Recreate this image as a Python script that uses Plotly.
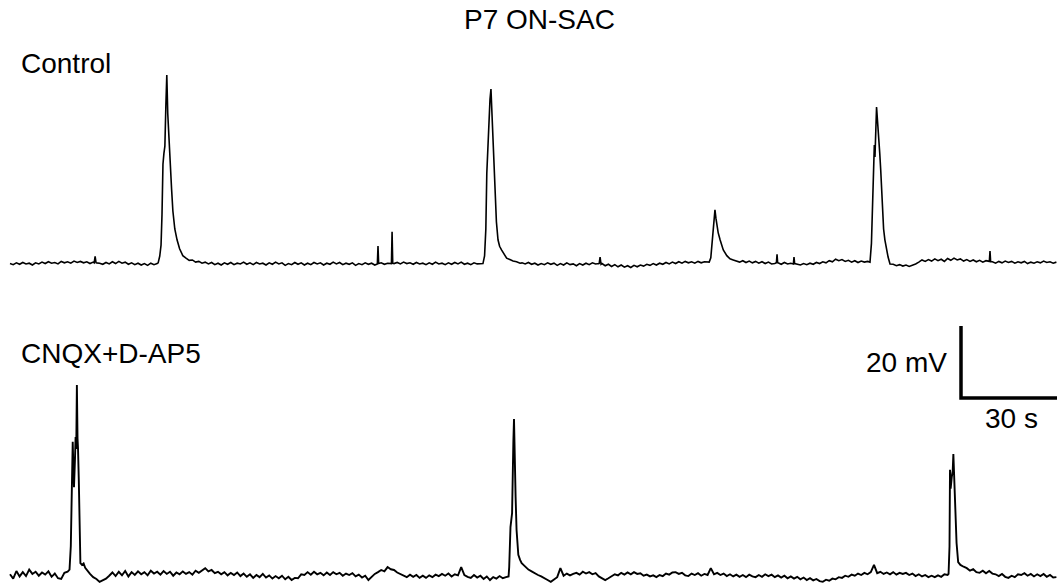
import plotly.graph_objects as go

# ---------------- data (time in s, membrane potential in mV relative to rest) ----------------
TITLE = "P7 ON-SAC"
LABEL_CONTROL = "Control"
LABEL_DRUG = "CNQX+D-AP5"
SCALE_MV = 20     # vertical scale bar (mV)
SCALE_S = 30      # horizontal scale bar (s)

# Baseline samples, one per second (t = 0 .. 327 s)
control_base_mv = [
    0.4, 0.1, 0.6, 0.2, 0.7, 0.3, 0.5, 0.0, 0.6, 0.3,
    0.8, 0.4, 0.9, 0.5, 0.7, 0.3, 1.0, 0.6, 0.9, 0.5,
    1.1, 0.7, 1.0, 0.6, 0.9, 0.4, 0.8, 0.6, 0.5, 0.2,
    0.7, 0.3, 0.9, 0.4, 1.0, 0.5, 0.8, 0.2, 0.6, 0.1,
    0.5, 0.0, 0.4, -0.1, 0.5, 0.1, 0.4, 0.0, 0.0, 0.0,
    0.0, 0.0, 0.0, 0.0, 0.0, 1.9, 1.3, 1.4, 0.8, 1.0,
    0.5, 0.8, 0.3, 0.7, 0.1, 0.5, 0.0, 0.6, 0.2, 0.7,
    0.1, 0.5, 0.3, 0.8, 0.2, 0.6, 0.1, 0.7, 0.3, 0.5,
    0.0, 0.6, 0.2, 0.8, 0.3, 0.6, -0.1, 0.4, 0.1, 0.7,
    0.2, 0.6, 0.0, 0.5, 0.1, 0.7, 0.3, 0.6, 0.0, 0.5,
    0.2, 0.8, 0.3, 0.7, 0.1, 0.5, 0.2, 0.6, -0.1, 0.4,
    0.1, 0.6, 0.2, 0.5, 0.0, 0.0, 0.6, 0.2, 0.5, 0.5,
    0.4, 0.7, 0.3, 0.8, 0.4, 0.6, 0.2, 0.7, 0.3, 0.5,
    0.1, 0.6, 0.2, 0.8, 0.3, 0.5, 0.1, 0.6, 0.2, 0.7,
    0.3, 0.8, 0.2, 0.5, 0.1, 0.6, 0.3, 0.4, 0.0, 0.0,
    0.0, 0.0, 0.0, 0.0, 0.0, 0.0, 0.0, 0.0, 0.0, 0.0,
    0.6, 0.3, 0.7, 0.2, 0.5, 0.0, 0.4, 0.1, 0.6, 0.2,
    0.5, -0.1, 0.4, 0.0, 0.6, 0.1, 0.3, -0.2, 0.4, 0.0,
    0.5, 0.1, 0.6, 0.3, 0.4, 0.4, -0.2, 0.2, -0.4, 0.1,
    -0.5, 0.0, -0.6, -0.2, -0.7, -0.1, -0.5, 0.0, -0.3, 0.2,
    -0.1, 0.4, 0.0, 0.5, 0.2, 0.7, 0.3, 0.8, 0.4, 0.9,
    0.5, 1.0, 0.6, 0.9, 0.5, 1.0, 0.6, 0.9, 0.7, 0.0,
    0.0, 0.0, 0.0, 0.0, 0.0, 0.0, 0.0, 0.0, 0.8, 1.2,
    0.7, 1.1, 0.6, 1.0, 0.5, 0.9, 0.4, 0.8, 0.3, 0.4,
    0.6, 0.2, 0.7, 0.3, 0.5, 0.0, 0.3, 0.0, 0.4, 0.1,
    0.5, 0.2, 0.7, 0.4, 0.9, 0.6, 1.2, 0.9, 1.6, 1.2,
    1.5, 1.0, 1.3, 0.8, 1.2, 0.7, 1.1, 0.8, 1.0, 0.0,
    0.0, 0.0, 0.0, 0.0, 0.0, 0.0, 0.2, -0.2, 0.1, -0.3,
    0.0, -0.4, -0.1, 0.3, 0.8, 1.4, 1.0, 1.5, 1.1, 1.7,
    1.2, 1.6, 1.0, 1.8, 1.3, 1.9, 1.4, 1.7, 1.1, 1.5,
    1.0, 1.4, 0.9, 1.3, 0.8, 1.2, 1.0, 0.9, 0.5, 1.0,
    0.6, 1.1, 0.7, 1.0, 0.5, 0.9, 0.6, 1.0, 0.4, 0.8,
    0.5, 0.9, 0.6, 1.1, 0.7, 0.9, 0.5, 0.8,
]

# Events (waves and small spikes) of the control trace, sampled finely
control_event_t = [
    [26.3, 26.6, 26.9],
    [46.3, 46.8, 47.2, 47.5, 47.8, 48.1, 48.4, 48.7, 49.0, 49.3, 49.5, 49.8,
     50.1, 50.5, 50.9, 51.5, 52.2, 53.0, 54.0, 54.6],
    [114.8, 115.0, 115.2],
    [119.2, 119.4, 119.6],
    [147.8, 148.3, 148.7, 149.0, 149.4, 149.7, 150.0, 150.3, 150.5, 150.8, 151.2,
     151.6, 152.0, 152.5, 153.0, 153.6, 154.4, 155.2, 156.2, 157.2, 158.3, 159.4],
    [184.1, 184.4, 184.7],
    [218.5, 219.0, 219.4, 219.8, 220.3, 220.6, 220.8, 221.3, 221.9, 222.9, 224.0,
     225.0, 226.0, 227.0],
    [239.5, 239.7, 239.9],
    [244.8, 245.0, 245.2],
    [268.75, 269.2, 269.5, 269.9, 270.1, 270.3, 270.6, 270.8, 271.1, 271.4, 271.8,
     272.1, 272.4, 272.7, 273.0, 273.4, 273.9, 274.4, 275.0],
    [306.05, 306.25, 306.45],
]
control_event_mv = [
    [0.6, 2.4, 0.5],
    [0.6, 2.5, 5.5, 14, 28, 31, 33, 44, 52.8, 42, 38, 32,
     27, 21, 15, 10, 7, 4.5, 2.6, 2.1],
    [0.3, 5.3, 0.4],
    [0.4, 9.2, 0.5],
    [0.4, 2.5, 10, 25.5, 35, 43, 46, 48.9, 44, 40, 30,
     20, 12, 7, 5.2, 4.2, 3.0, 1.9, 1.5, 1.1, 0.9, 0.5],
    [0.3, 2.2, 0.2],
    [0.8, 2.0, 6, 11, 15.3, 13, 11.7, 9, 7, 4.2, 2.6,
     1.7, 1.4, 1.0],
    [0.6, 3.0, 0.5],
    [0.3, 2.2, 0.4],
    [0.8, 6, 18, 28, 33.3, 30, 38, 43.9, 40, 37, 31,
     26.4, 20, 14.4, 10, 7, 4, 2.2, 0.3],
    [1.0, 3.9, 0.9],
]

cnqx_base_mv = [
    0.2, -1.0, 1.1, -0.4, 0.8, -0.3, 1.5, 0.3, 0.9, -0.2,
    0.7, 0.1, 1.0, -0.5, 0.4, -0.9, -1.1, 0.6, 0.9, 0.0,
    0.0, 0.0, 0.0, 0.0, 0.0, 0.3, -0.6, -1.1, -1.9, -1.4,
    -1.0, -0.2, 0.7, -0.3, 0.9, -0.1, 1.1, -0.4, 0.8, 0.0,
    1.0, 0.2, 0.8, -0.1, 1.2, 0.4, 0.9, 0.1, 1.1, 0.3,
    0.9, -0.2, 0.7, 0.2, 1.0, 0.3, 0.8, 0.1, 1.2, 0.6,
    1.3, 1.9, 1.0, 1.4, 0.5, 0.9, 0.2, 0.8, -0.1, 0.6,
    0.0, 0.7, -0.3, 0.4, -0.5, 0.2, -0.8, 0.0, -0.6, 0.3,
    -0.7, -0.1, -1.0, -0.3, -0.9, -0.2, -1.2, -0.5, -1.4, -0.8,
    -0.9, 0.2, 0.0, 0.8, 0.1, 0.9, 0.2, 0.6, -0.1, 0.7,
    0.0, 0.8, 0.2, 0.6, -0.2, 0.4, 0.0, 0.5, -0.4, 0.1,
    -0.7, -0.2, -1.4, -0.6, 0.3, 0.8, 1.4, 1.0, 2.2, 1.6,
    1.4, 0.7, 0.2, -0.3, -0.6, 0.1, -0.5, 0.0, -0.8, -0.2,
    -0.8, -0.1, -0.6, 0.1, -0.3, 0.3, -0.2, 0.4, -0.4, 0.2,
    -0.1, 2.2, 0.0, -0.5, -0.8, 0.0, -0.7, -0.2, -1.1, -0.4,
    -1.4, -0.6, -1.0, -0.3, -0.9, -0.6, 0.0, 0.0, 0.0, 0.0,
    0.0, 0.0, 1.5, 1.0, 0.4, 0.0, -0.4, -1.0, -1.4, -1.9,
    -1.2, -0.6, 1.9, -0.2, 0.4, -0.1, 0.3, 0.6, 0.1, 0.9,
    0.4, 0.8, 0.2, 0.5, -0.4, -0.8, -1.4, -0.9, -0.3, 0.2,
    -0.1, 0.6, 0.1, 0.7, 0.2, 0.8, 0.3, 0.5, -0.2, 0.1,
    -0.4, -0.1, -0.6, 0.0, -0.3, 0.4, 0.1, 0.7, 0.8, 0.3,
    0.6, -0.1, -0.3, 0.4, 0.0, 0.5, -0.2, 0.3, 0.0, 1.9,
    0.2, 0.6, 0.0, 0.4, -0.3, 0.2, -0.4, 0.1, -0.5, 0.0,
    -0.6, 0.1, -0.4, -0.6, 0.0, -0.5, 0.2, -0.3, 0.1, -0.6,
    -0.1, -0.7, -0.2, -0.9, -0.4, -1.0, -0.5, -1.2, -0.7, -1.4,
    -0.9, -1.5, -1.1, -1.7, -1.9, -1.3, -1.6, -1.0, -1.2, -0.6,
    -0.8, -0.2, -0.5, 0.1, -0.2, 0.4, 0.0, 0.6, 0.2, 0.8,
    2.8, 0.5, 0.9, 0.3, 0.7, 0.2, 0.8, 0.1, 0.6, 0.3,
    0.6, 0.0, 0.4, -0.3, 0.2, -0.4, 0.0, -0.6, -0.2, -0.6,
    -0.1, -0.5, 0.2, 0.0, 0.0, 0.0, 0.0, 2.8, 2.3, 1.9,
    1.2, 1.6, 0.8, 0.6, 1.2, 0.5, 1.1, 0.4, 0.2, -0.3,
    0.3, -0.5, -0.8, -0.2, -0.6, 0.2, 0.0, 0.5, -0.2, 0.3,
    -0.4, 0.2, -0.3, 0.3, -0.5, 0.0, -0.7, -0.6,
]

cnqx_event_t = [
    [18.6, 19.0, 19.3, 19.6, 19.8, 20.0, 20.3, 20.5, 20.7, 20.9, 21.1, 21.25,
     21.5, 21.8, 22.0, 22.5, 23.0, 23.5, 24.0],
    [155.8, 156.0, 156.4, 156.9, 157.1, 157.3, 157.5, 157.7, 158.0, 158.3, 158.85,
     159.4, 159.9, 160.7, 161.5],
    [293.3, 293.6, 293.75, 293.95, 294.3, 294.6, 294.8, 295.1, 295.5, 295.8, 296.3,
     296.6],
]
cnqx_event_mv = [
    [1.5, 8, 25, 37, 30, 24.4, 32, 38.3, 35, 52.8, 38, 35.3,
     26.4, 10.6, 3.3, 2.8, 3.2, 2.0, 1.4],
    [-0.4, 2.2, 13.3, 17.2, 34.7, 37, 43.3, 29.2, 21.7, 12.5, 5.6,
     4.2, 3.3, 2.6, 1.9],
    [0.3, 8, 29.2, 24, 27.2, 29, 33.6, 27.2, 16, 8.9, 3.6,
     3.2],
]

# ---------------- assemble traces ----------------
def assemble(base, ev_t, ev_v):
    pts = []
    for i, v in enumerate(base):
        t = float(i)
        if any(ts[0] <= t <= ts[-1] for ts in ev_t):
            continue
        pts.append((t, v))
    for ts, vs in zip(ev_t, ev_v):
        pts.extend(zip(ts, vs))
    pts.sort()
    return [p[0] for p in pts], [p[1] for p in pts]

ct, cv = assemble(control_base_mv, control_event_t, control_event_mv)
dt, dv = assemble(cnqx_base_mv, cnqx_event_t, cnqx_event_mv)

# ---------------- layout geometry ----------------
W, H = 1057, 586
PX_PER_S = 3.2
PX_PER_MV = 3.6
X0_PX = 10            # pixel of t = 0
TOP_BASE_PX = 265     # pixel of control baseline
BOT_BASE_PX = 575     # pixel of drug baseline

x_range = [-X0_PX / PX_PER_S, (W - X0_PX) / PX_PER_S]
y1_range = [(TOP_BASE_PX - H) / PX_PER_MV, TOP_BASE_PX / PX_PER_MV]
y2_range = [(BOT_BASE_PX - H) / PX_PER_MV, BOT_BASE_PX / PX_PER_MV]

fig = go.Figure()
fig.add_trace(go.Scatter(x=ct, y=cv, mode="lines", yaxis="y",
                         line=dict(color="black", width=1.6), hoverinfo="skip"))
fig.add_trace(go.Scatter(x=dt, y=dv, mode="lines", yaxis="y2",
                         line=dict(color="black", width=1.9), hoverinfo="skip"))

# scale bar (corner position in pixels converted to data units)
corner_px_x, corner_px_y = 961, 398
cx = (corner_px_x - X0_PX) / PX_PER_S
cy = (BOT_BASE_PX - corner_px_y) / PX_PER_MV
fig.add_trace(go.Scatter(x=[cx, cx, cx + SCALE_S], y=[cy + SCALE_MV, cy, cy],
                         mode="lines", yaxis="y2",
                         line=dict(color="black", width=3.5), hoverinfo="skip"))

FONT = "Liberation Sans, Arial, sans-serif"

def ann(text, px, py, xanchor):
    return dict(text=text, x=px / W, y=1 - py / H, xref="paper", yref="paper",
                xanchor=xanchor, yanchor="middle", showarrow=False,
                font=dict(family=FONT, size=28, color="black"))

fig.update_layout(
    width=W, height=H,
    margin=dict(l=0, r=0, t=0, b=0),
    paper_bgcolor="white", plot_bgcolor="white",
    showlegend=False,
    xaxis=dict(range=x_range, visible=False, fixedrange=True),
    yaxis=dict(range=y1_range, visible=False, fixedrange=True),
    yaxis2=dict(range=y2_range, visible=False, overlaying="y", fixedrange=True),
    annotations=[
        ann(TITLE, 539, 19, "center"),
        ann(LABEL_CONTROL, 19, 63, "left"),
        ann(LABEL_DRUG, 19, 353, "left"),
        ann(f"{SCALE_MV} mV", 949, 362, "right"),
        ann(f"{SCALE_S} s", 1011, 418, "center"),
    ],
)

fig.write_html("out.html")
